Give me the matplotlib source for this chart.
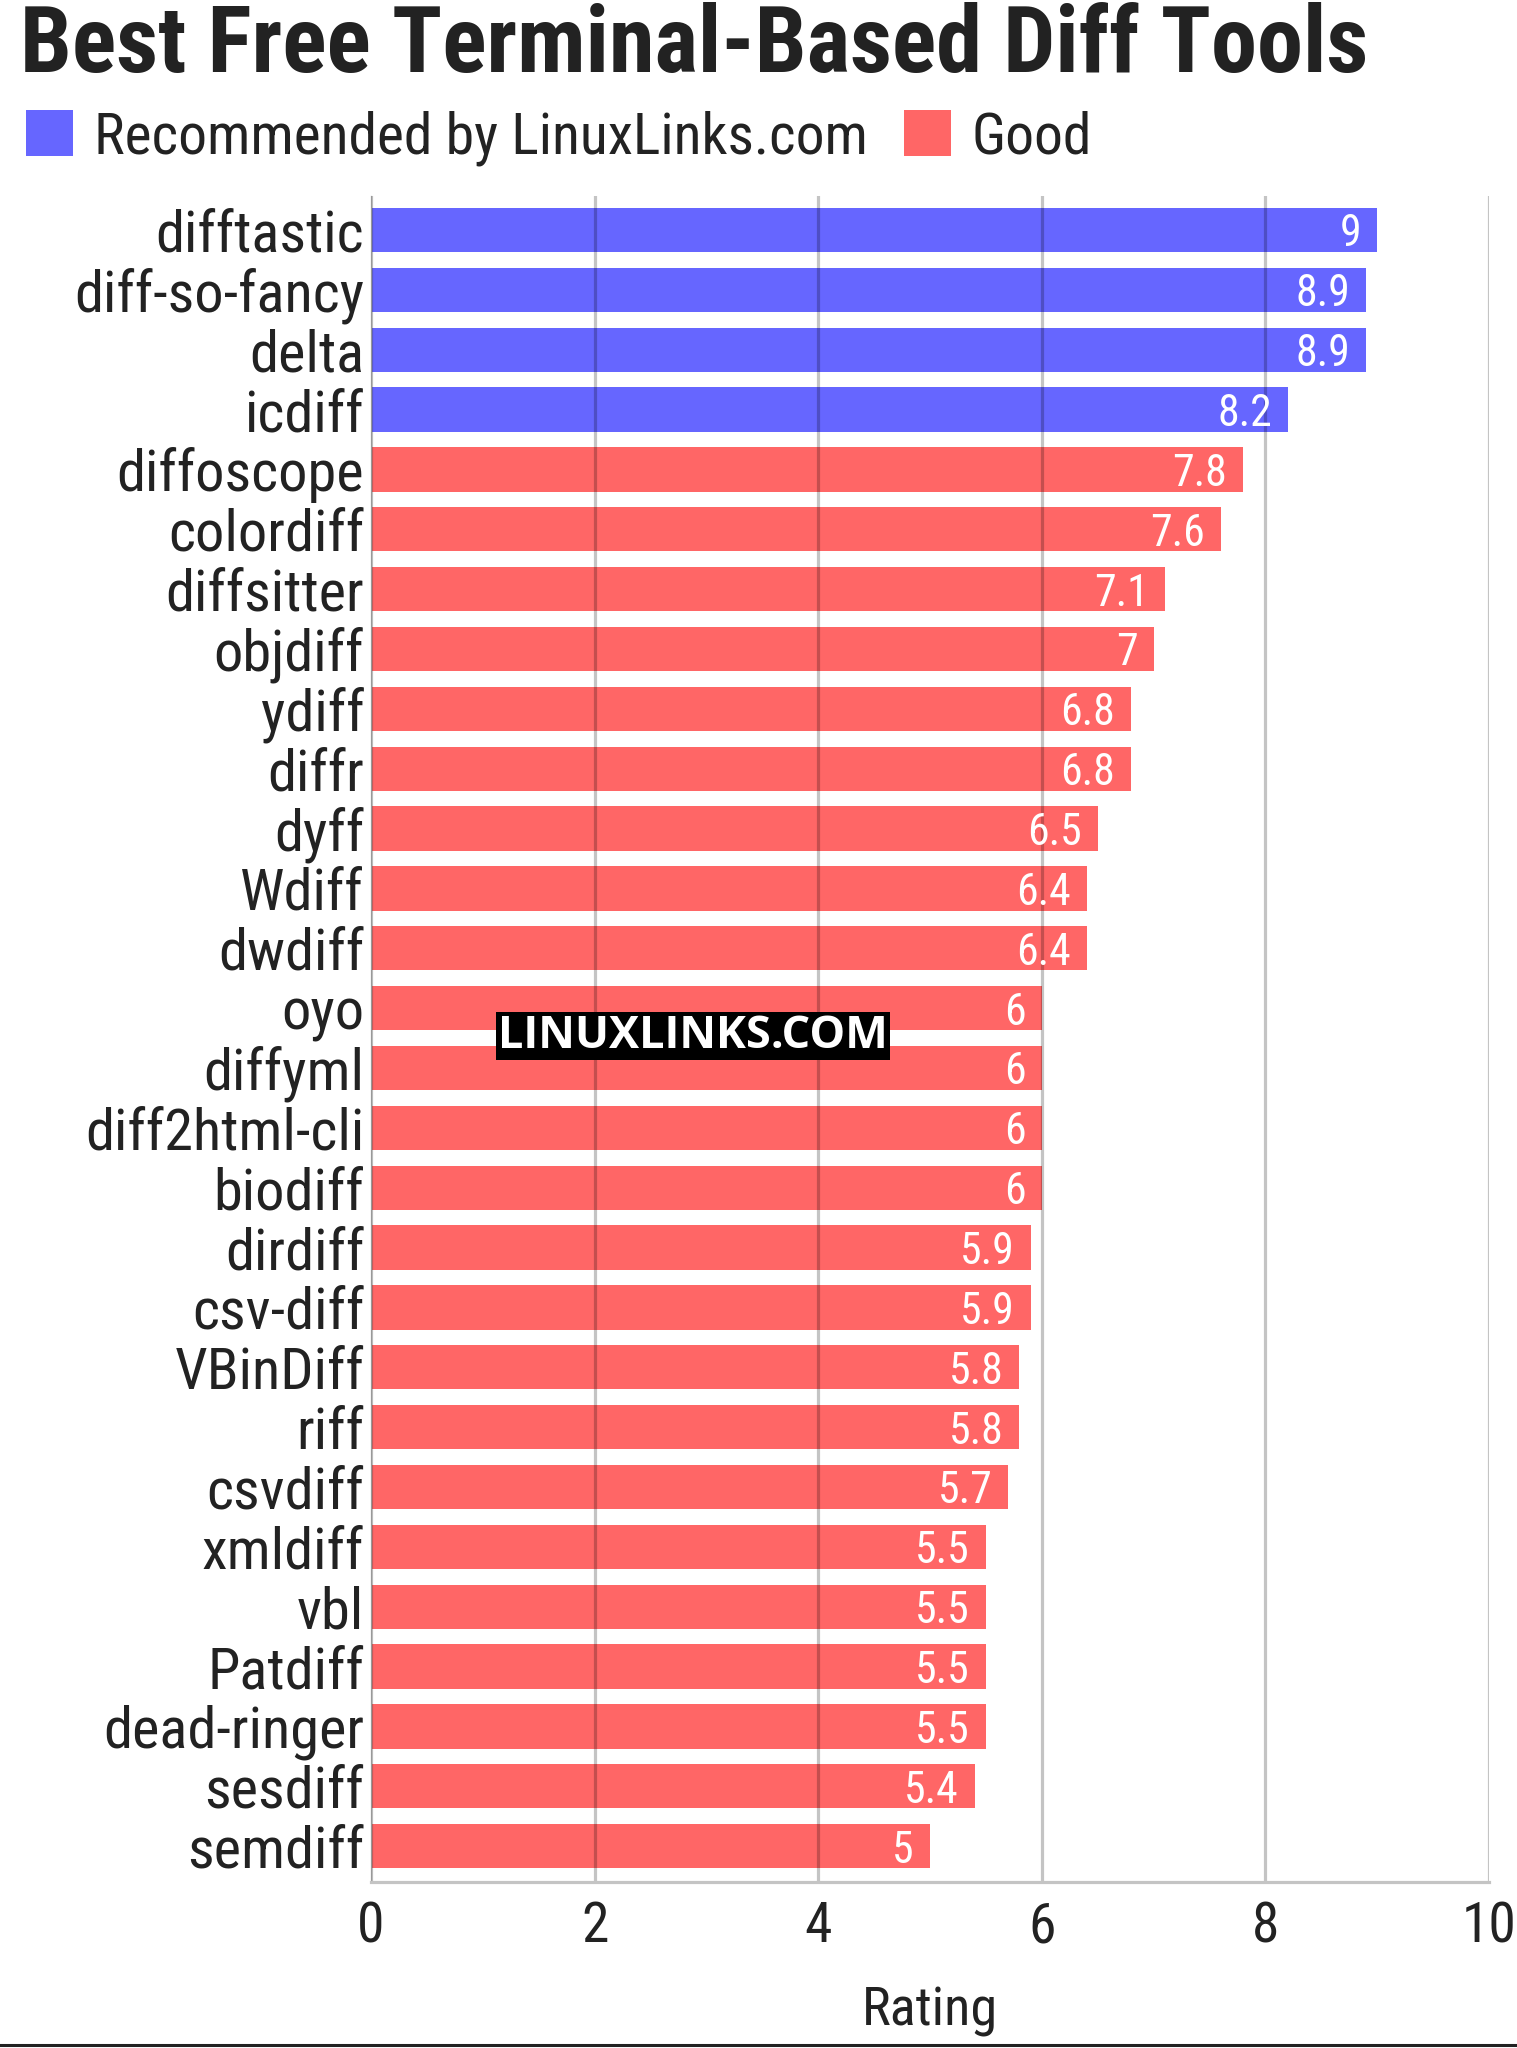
import numpy as np
import matplotlib
matplotlib.use("Agg")
import matplotlib.pyplot as plt
from matplotlib.patches import Patch
from matplotlib import font_manager as fm

tools = ["difftastic", "diff-so-fancy", "delta", "icdiff", "diffoscope", "colordiff",
         "diffsitter", "objdiff", "ydiff", "diffr", "dyff", "Wdiff", "dwdiff", "oyo",
         "diffyml", "diff2html-cli", "biodiff", "dirdiff", "csv-diff", "VBinDiff", "riff",
         "csvdiff", "xmldiff", "vbl", "Patdiff", "dead-ringer", "sesdiff", "semdiff"]
ratings = [9, 8.9, 8.9, 8.2, 7.8, 7.6, 7.1, 7, 6.8, 6.8, 6.5, 6.4, 6.4, 6, 6, 6, 6,
           5.9, 5.9, 5.8, 5.8, 5.7, 5.5, 5.5, 5.5, 5.5, 5.4, 5]
groups = ["Recommended"] * 4 + ["Good"] * 24
group_labels = {"Recommended": "Recommended by LinuxLinks.com", "Good": "Good"}
group_colors = {"Recommended": "#6666ff", "Good": "#ff6666"}
xticks = [0, 2, 4, 6, 8, 10]

names = {f.name for f in fm.fontManager.ttflist}
cond = "Roboto Condensed" in names
FAM = ["Roboto Condensed", "Roboto", "DejaVu Sans"] if cond else ["Roboto", "DejaVu Sans"]
k = 1.0 if cond else 0.88
plt.rcParams["font.family"] = FAM
TXT = "#222222"

fig = plt.figure(figsize=(15.17, 20.48), dpi=100)
W, H = 1517, 2048
ax = fig.add_axes([371 / W, 1 - 1882 / H, (1489 - 371) / W, (1882 - 196) / H])

y = np.arange(len(tools))
colors = [group_colors[g] for g in groups]
ax.barh(y, ratings, height=0.74, color=colors, zorder=2)
ax.set_ylim(len(tools) - 1 + 0.6, -0.567)
ax.set_xlim(0, 10)
ax.set_xticks(xticks)
ax.set_xticklabels([str(t) for t in xticks])
ax.set_yticks(y)
ax.set_yticklabels(tools)
ax.tick_params(axis="both", length=0, colors=TXT)
ax.tick_params(axis="y", labelsize=42 * k, pad=5)
ax.tick_params(axis="x", labelsize=40 * k, pad=13)
for lab in ax.get_yticklabels():
    lab.set_va("center_baseline")
ax.grid(axis="x", color="black", alpha=0.23, linewidth=2.3, zorder=3)
ax.set_axisbelow(False)
for s in ["top", "right"]:
    ax.spines[s].set_visible(False)
ax.spines["left"].set_color("#c8c8c8")
ax.spines["left"].set_linewidth(1.0)
ax.spines["bottom"].set_color("#c4c4c4")
ax.spines["bottom"].set_linewidth(2.3)
ax.spines["bottom"].set_zorder(4)
ax.set_xlabel("Rating", fontsize=39 * k, color=TXT, labelpad=24)

for yi, v in zip(y, ratings):
    ax.annotate(f"{v:g}", (v, yi), xytext=(-11.5, 0), textcoords="offset points",
                ha="right", va="center_baseline", color="white", fontsize=31.5 * k,
                zorder=5)

fig.text(20 / W, 1 - 72 / H, "Best Free Terminal-Based Diff Tools", fontsize=66.5 * k,
         fontweight="bold", color=TXT, ha="left", va="baseline")

handles = [Patch(facecolor=group_colors[g], edgecolor="none") for g in ["Recommended", "Good"]]
fig.legend(handles, [group_labels[g] for g in ["Recommended", "Good"]],
           loc="upper left", bbox_to_anchor=(26 / W, 1 - 110 / H), ncol=2,
           frameon=False, fontsize=41.5 * k, handlelength=0.82 / k, handleheight=0.84 / k,
           handletextpad=0.36, columnspacing=0.62, borderpad=0, borderaxespad=0,
           labelcolor=TXT)

fig.text(693 / W, 1 - 1036 / H, "LINUXLINKS.COM", fontsize=32.5, fontweight="bold",
         family=["Open Sans", "DejaVu Sans"], color="white", ha="center", va="center",
         bbox=dict(boxstyle="square,pad=0.04", facecolor="black", edgecolor="none"),
         zorder=10)

fig.add_artist(plt.Line2D([0, 1], [3 / H, 3 / H], transform=fig.transFigure,
                          color="#222222", linewidth=2.2))

fig.savefig("out.png", dpi=100)
